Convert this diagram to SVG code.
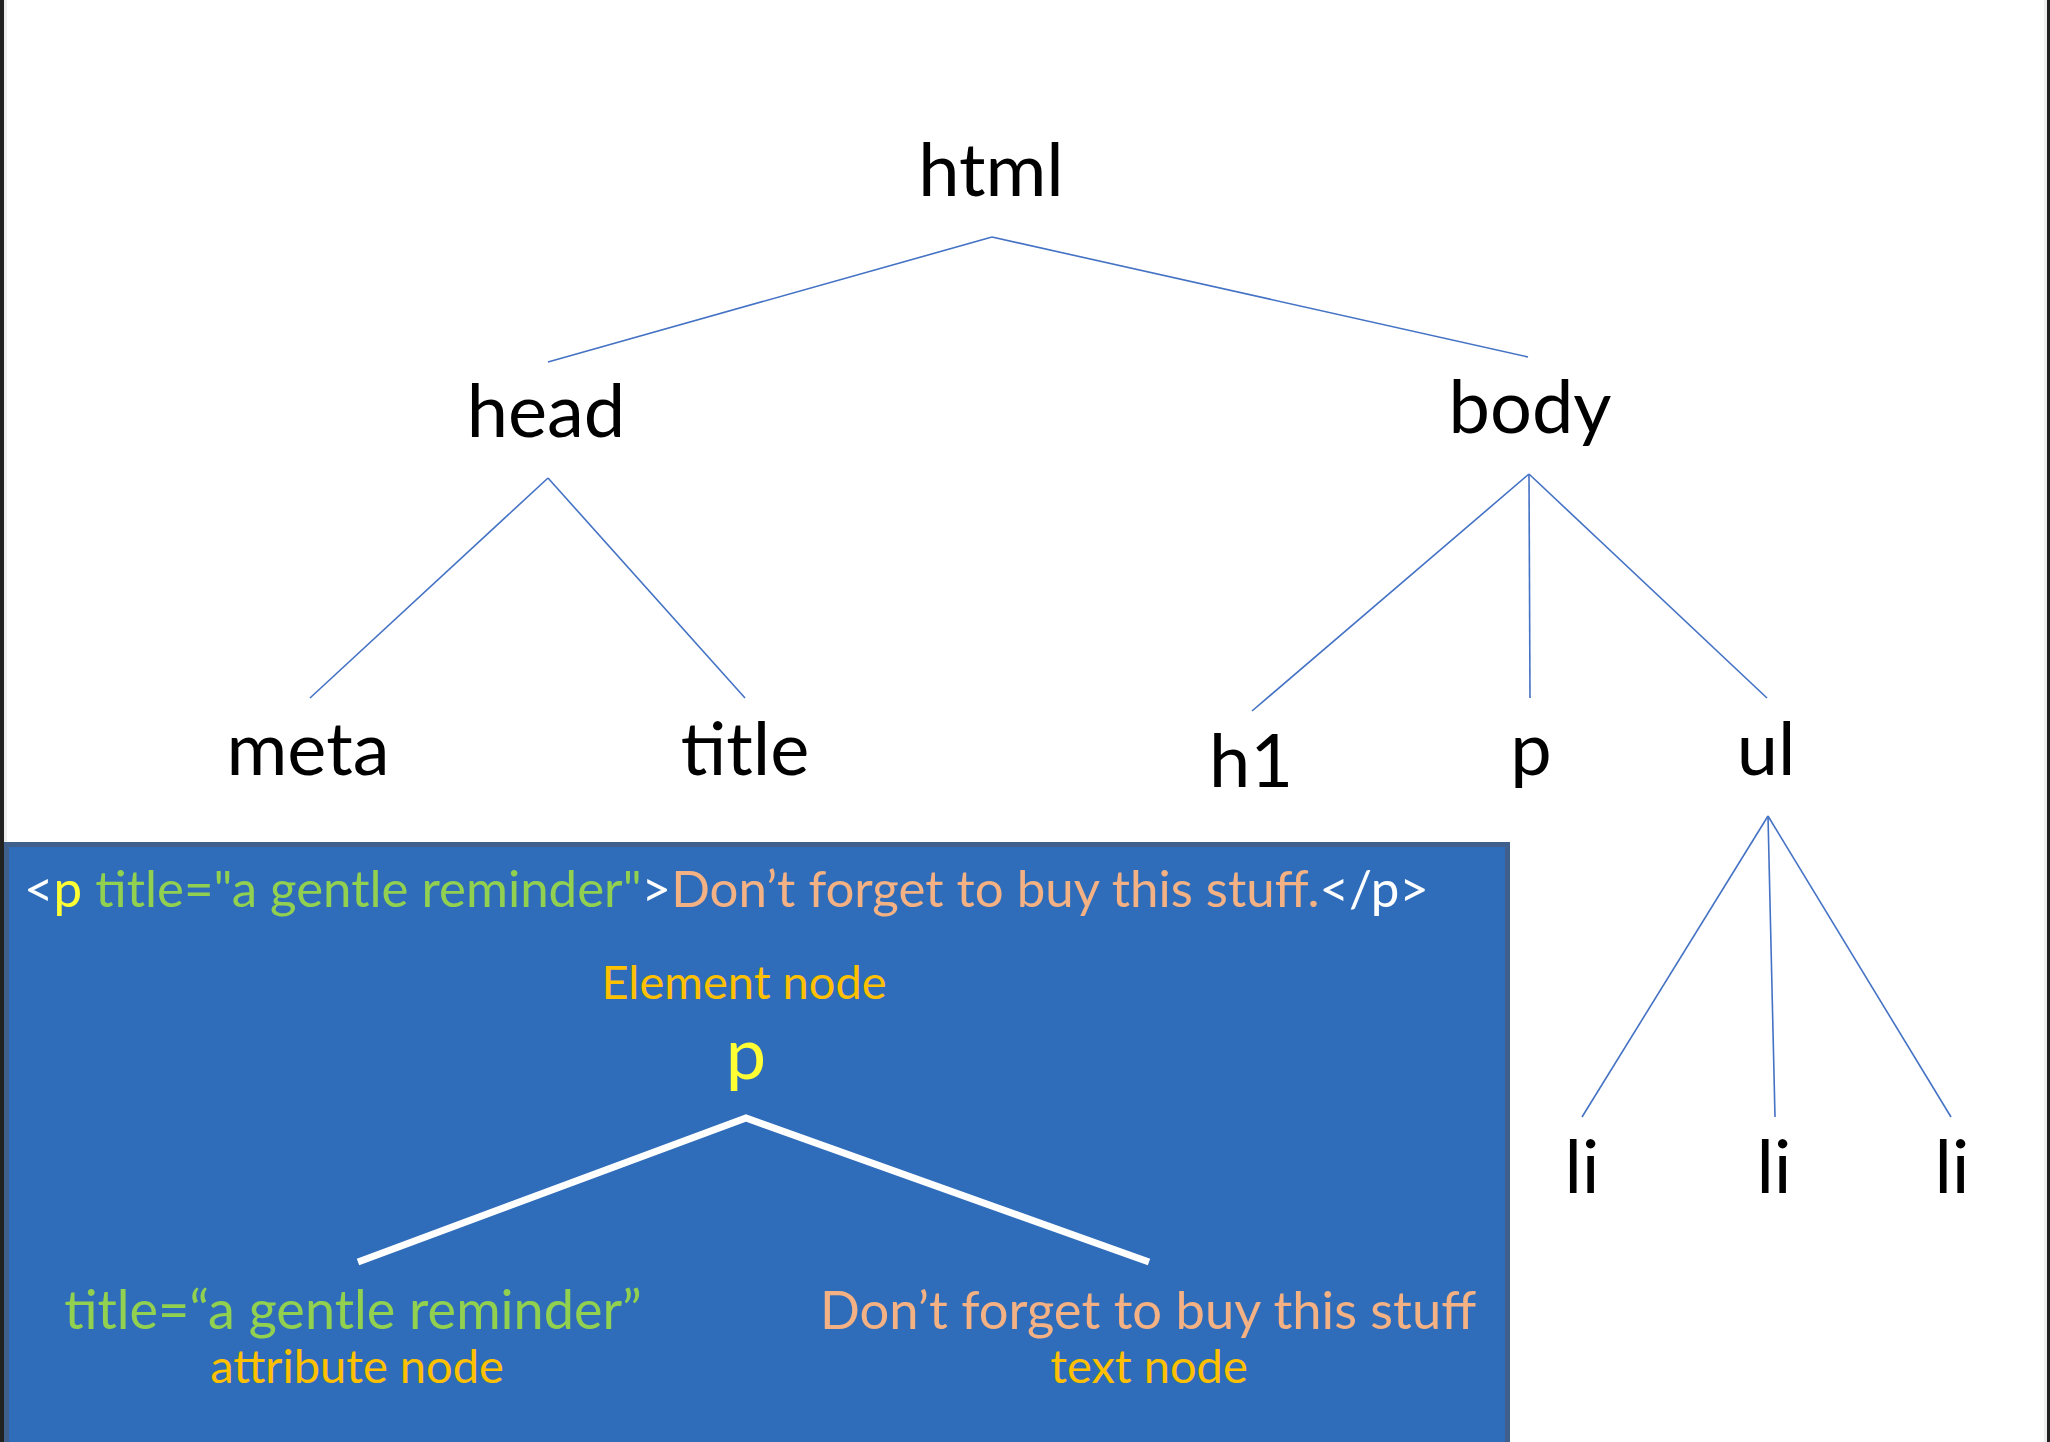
<svg xmlns="http://www.w3.org/2000/svg" width="2050" height="1442" viewBox="0 0 2050 1442">
<style>
.lbl{font-family:Lato,"Liberation Sans",sans-serif;font-size:74px;fill:#000;text-anchor:middle}
.edge{stroke:#4472C4;stroke-width:1.6;fill:none}
.wedge{stroke:#fff;stroke-width:7;fill:none}
.bx{font-family:Lato,"Liberation Sans",sans-serif;font-size:47px}
</style>
<rect x="0" y="0" width="2050" height="1442" fill="#fff"/>
<rect x="0" y="0" width="4" height="1442" fill="#222"/>
<rect x="4" y="0" width="3" height="1442" fill="#eee"/>
<rect x="2047" y="0" width="3" height="1442" fill="#222"/>
<rect x="2044" y="0" width="3" height="1442" fill="#eee"/>

<g id="connectors">
<line class="edge" x1="992" y1="237" x2="548" y2="362"/>
<line class="edge" x1="992" y1="237" x2="1528" y2="357"/>
<line class="edge" x1="548" y1="478" x2="310" y2="698"/>
<line class="edge" x1="548" y1="478" x2="745" y2="698"/>
<line class="edge" x1="1529" y1="474" x2="1252" y2="711"/>
<line class="edge" x1="1529" y1="474" x2="1530" y2="698"/>
<line class="edge" x1="1529" y1="474" x2="1767" y2="698"/>
<line class="edge" x1="1768" y1="816" x2="1582" y2="1117"/>
<line class="edge" x1="1768" y1="816" x2="1775" y2="1117"/>
<line class="edge" x1="1768" y1="816" x2="1951" y2="1117"/>
</g>

<g id="html"><text class="lbl" x="991" y="196">html</text></g>
<g id="head"><text class="lbl" x="546" y="437">head</text></g>
<g id="body"><text class="lbl" x="1530" y="433">body</text></g>
<g id="meta"><text class="lbl" x="308" y="775">meta</text></g>
<g id="title"><text class="lbl" x="745" y="775">title</text></g>
<g id="h1"><text class="lbl" x="1251" y="787">h1</text></g>
<g id="p"><text class="lbl" x="1531" y="775">p</text></g>
<g id="ul"><text class="lbl" x="1766" y="775">ul</text></g>
<g id="li1"><text class="lbl" x="1582" y="1193">li</text></g>
<g id="li2"><text class="lbl" x="1774" y="1193">li</text></g>
<g id="li3"><text class="lbl" x="1952" y="1193">li</text></g>

<g id="p-panel">
<rect x="6.5" y="844.5" width="1501" height="640" fill="#2F6DBA" stroke="#3F5F8C" stroke-width="5"/>
<text class="bx" x="24" y="907" style="font-size:51px"><tspan fill="#fff">&lt;</tspan><tspan fill="#FFFF33">p</tspan><tspan fill="#92D050"> title="a gentle reminder"</tspan><tspan fill="#fff">&gt;</tspan><tspan fill="#F4B183">Don’t forget to buy this stuff.</tspan><tspan fill="#fff">&lt;/p&gt;</tspan></text>
<g id="element-node">
<text class="bx" x="744" y="999" fill="#FFC000" text-anchor="middle">Element node</text>
<text class="bx" x="746" y="1079" fill="#FFFF33" text-anchor="middle" style="font-size:72px">p</text>
</g>
<g id="p-connectors">
<polyline class="wedge" points="358,1262 746,1118 1149,1262"/>
</g>
<g id="attribute-node">
<text class="bx" x="353" y="1329" fill="#92D050" text-anchor="middle" style="font-size:54px">title=“a gentle reminder”</text>
<text class="bx" x="357" y="1383" fill="#FFC000" text-anchor="middle">attribute node</text>
</g>
<g id="text-node">
<text class="bx" x="1148" y="1329" fill="#F4B183" text-anchor="middle" style="font-size:52.5px">Don’t forget to buy this stuff</text>
<text class="bx" x="1149" y="1383" fill="#FFC000" text-anchor="middle">text node</text>
</g>
</g>
</svg>
